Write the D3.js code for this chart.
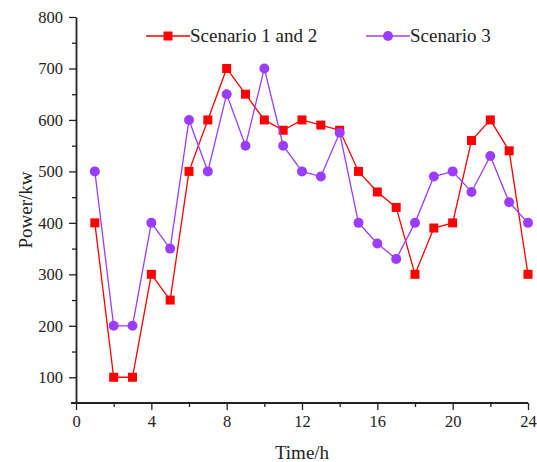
<!DOCTYPE html>
<html>
<head>
<meta charset="utf-8">
<script src="https://cdn.jsdelivr.net/npm/d3@7"></script>
<style>
  body { margin: 0; background: #fff; }
  svg text { font-family: "Liberation Serif", "Times New Roman", serif !important; fill: #222; }
</style>
</head>
<body>
<div id="chart"></div>
<script>
// data
const hours = d3.range(1, 25);
const scenario12 = [400, 100, 100, 300, 250, 500, 600, 700, 650, 600, 580, 600,
  590, 580, 500, 460, 430, 300, 390, 400, 560, 600, 540, 300];
const scenario3 = [500, 200, 200, 400, 350, 600, 500, 650, 550, 700, 550, 500,
  490, 575, 400, 360, 330, 400, 490, 500, 460, 530, 440, 400];
const xTicks = [0, 4, 8, 12, 16, 20, 24];
const yTicks = [100, 200, 300, 400, 500, 600, 700, 800];

const width = 537;
const height = 462;
const margin = { top: 17, right: 9, bottom: 59, left: 76 };
const serif = "'Liberation Serif', 'Times New Roman', serif";

const svg = d3.select("#chart")
  .append("svg")
  .attr("width", width)
  .attr("height", height);

// scales
const xScale = d3.scaleLinear()
  .domain([0, 24])
  .range([margin.left, width - margin.right]);
const yScale = d3.scaleLinear()
  .domain([50, 800])
  .range([height - margin.bottom, margin.top]);

// axes - major + minor ticks, outward
const axisColor = "#222";
const xMinor = d3.range(2, 24, 4);
const yMinor = d3.range(150, 800, 100);

svg.append("g")
  .attr("transform", `translate(0,${height - margin.bottom})`)
  .call(d3.axisBottom(xScale).tickValues(xMinor).tickSize(4).tickFormat(""))
  .call(g => g.select(".domain").remove());
const xAxis = svg.append("g")
  .attr("transform", `translate(0,${height - margin.bottom})`)
  .call(d3.axisBottom(xScale).tickValues(xTicks).tickSize(7).tickSizeOuter(0).tickPadding(5));

svg.append("g")
  .attr("transform", `translate(${margin.left},0)`)
  .call(d3.axisLeft(yScale).tickValues(yMinor).tickSize(4).tickFormat(""))
  .call(g => g.select(".domain").remove());
const yAxis = svg.append("g")
  .attr("transform", `translate(${margin.left},0)`)
  .call(d3.axisLeft(yScale).tickValues(yTicks).tickSize(7).tickSizeOuter(0).tickPadding(6));

[xAxis, yAxis].forEach(a => a.attr("font-family", serif).attr("font-size", 16.5));
svg.selectAll(".domain").attr("stroke", axisColor).attr("stroke-width", 1.8);
svg.selectAll(".tick line").attr("stroke", axisColor).attr("stroke-width", 1.3);
svg.selectAll(".tick text").attr("fill", "#222");
// extend x axis line slightly left to meet y axis end
xAxis.select(".domain").attr("d", `M${margin.left - 5},0H${width - margin.right}`);

// axis titles
svg.append("text")
  .attr("x", xScale(12))
  .attr("y", 459)
  .attr("text-anchor", "middle")
  .attr("font-size", 19)
  .text("Time/h");
svg.append("text")
  .attr("transform", `translate(32,${yScale(425)}) rotate(-90)`)
  .attr("text-anchor", "middle")
  .attr("font-size", 19)
  .text("Power/kw");

// series
const series = [
  { name: "Scenario 1 and 2", values: scenario12, color: "#ff0000", shape: "square" },
  { name: "Scenario 3", values: scenario3, color: "#9b3dff", shape: "circle" }
];

const line = d3.line()
  .x((d, i) => xScale(hours[i]))
  .y(d => yScale(d));

function drawMarker(g, shape, color, cx, cy) {
  if (shape === "square") {
    g.append("rect")
      .attr("x", cx - 4.5).attr("y", cy - 4.5)
      .attr("width", 9).attr("height", 9)
      .attr("fill", color);
  } else {
    g.append("circle")
      .attr("cx", cx).attr("cy", cy).attr("r", 5)
      .attr("fill", color);
  }
}

series.forEach(s => {
  const g = svg.append("g");
  g.append("path")
    .datum(s.values)
    .attr("d", line)
    .attr("fill", "none")
    .attr("stroke", s.color)
    .attr("stroke-width", 1.3);
  s.values.forEach((v, i) => drawMarker(g, s.shape, s.color, xScale(hours[i]), yScale(v)));
});

// legend
const legendY = 36;
const legendX = [146, 366];
series.forEach((s, i) => {
  const g = svg.append("g");
  g.append("line")
    .attr("x1", legendX[i]).attr("x2", legendX[i] + 44)
    .attr("y1", legendY).attr("y2", legendY)
    .attr("stroke", s.color).attr("stroke-width", 1.3);
  drawMarker(g, s.shape, s.color, legendX[i] + 22, legendY);
  g.append("text")
    .attr("x", legendX[i] + 44)
    .attr("y", legendY + 6)
    .attr("font-size", 19)
    .text(s.name);
});
</script>
</body>
</html>
